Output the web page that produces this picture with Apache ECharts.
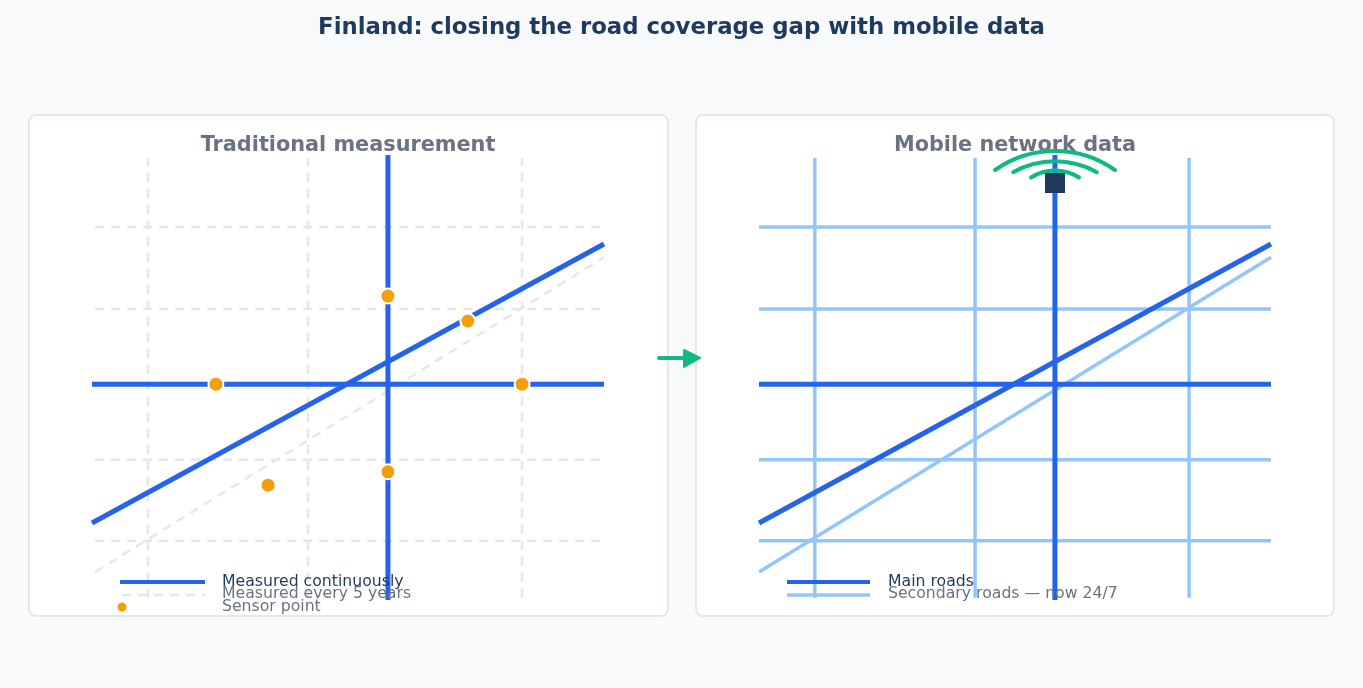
<!DOCTYPE html>
<html><head><meta charset="utf-8">
<script src="https://cdn.jsdelivr.net/npm/echarts@6/dist/echarts.min.js"></script>
<style>html,body{margin:0;background:#f8fafc}#c{width:1363px;height:688px}</style></head>
<body><div id="c"></div>
<script>
// coordinates in abstract map units 0..100
const gridX = [10.9, 42.2, 84.0];
const gridY = [83.8, 65.4, 31.5, 13.3];
const mainV = 57.8;
const mainH = 48.5;
const mainDiag = [[0, 17.3], [100, 80]];
const secDiag = [[0.6, 6.3], [100, 77]];
const sensors = [[24.2, 48.5], [84.0, 48.5], [57.8, 68.3], [73.4, 62.7], [57.8, 28.8], [34.4, 25.8]];

const BLUE = '#2563eb', LIGHT = '#93c5fd', GREY = '#e5e7eb';
const series = [];
function add(gi, data, color, w, dashed, z) {
  series.push({type: 'line', xAxisIndex: gi, yAxisIndex: gi, data, symbol: 'none', silent: true, z: z || 2,
    lineStyle: {color, width: w, type: dashed ? [9, 7] : 'solid'}});
}
gridX.forEach(x => add(0, [[x, 0.5], [x, 99.3]], GREY, 2.5, true));
gridY.forEach(y => add(0, [[0.6, y], [100, y]], GREY, 2.5, true));
add(0, secDiag, GREY, 2.5, true);
add(0, [[mainV, 0], [mainV, 100]], BLUE, 5, false, 3);
add(0, [[0, mainH], [100, mainH]], BLUE, 5, false, 3);
add(0, mainDiag, BLUE, 5, false, 3);
series.push({type: 'scatter', xAxisIndex: 0, yAxisIndex: 0, data: sensors, symbolSize: 15, z: 5, silent: true,
  itemStyle: {color: '#f59e0b', borderColor: '#fff', borderWidth: 2, opacity: 1}});
gridX.forEach(x => add(1, [[x, 0.5], [x, 99.3]], LIGHT, 3.5, false));
gridY.forEach(y => add(1, [[0, y], [100, y]], LIGHT, 3.5, false));
add(1, [[0, 6.3], [100, 77]], LIGHT, 3.5, false);
add(1, [[mainV, 0], [mainV, 100]], BLUE, 5, false, 3);
add(1, [[0, mainH], [100, mainH]], BLUE, 5, false, 3);
add(1, mainDiag, BLUE, 5, false, 3);

const ax = (gi) => ({type: 'value', gridIndex: gi, min: 0, max: 100, show: false});
function arc(r, cy, half) {
  return {type: 'arc', z: 10, shape: {cx: 1055, cy, r, startAngle: -Math.PI/2 - half, endAngle: -Math.PI/2 + half, clockwise: true},
    style: {stroke: '#10b981', fill: null, lineWidth: 4, lineCap: 'round'}};
}
const F = 'DejaVu Sans';
const chart = echarts.init(document.getElementById('c'));
chart.setOption({
  backgroundColor: '#f8fafc',
  title: {text: 'Finland: closing the road coverage gap with mobile data', left: 'center', top: 12,
    textStyle: {fontSize: 22.8, fontWeight: 'bold', color: '#1e3a5f', fontFamily: F}},
  grid: [{left: 92, top: 155, width: 512, height: 445}, {left: 759, top: 155, width: 512, height: 445}],
  xAxis: [ax(0), ax(1)], yAxis: [ax(0), ax(1)],
  series,
  graphic: [
    {type: 'rect', z: -10, shape: {x: 29, y: 115, width: 639, height: 501, r: 7}, style: {fill: '#fff', stroke: '#e5e7eb', lineWidth: 2}},
    {type: 'rect', z: -10, shape: {x: 696, y: 115, width: 638, height: 501, r: 7}, style: {fill: '#fff', stroke: '#e5e7eb', lineWidth: 2}},
    {type: 'text', z: 10, x: 348, y: 146, style: {text: 'Traditional measurement', align: 'center', verticalAlign: 'middle', fontSize: 20.8, fontWeight: 'bold', fill: '#6b7280', fontFamily: F}},
    {type: 'text', z: 10, x: 1015, y: 146, style: {text: 'Mobile network data', align: 'center', verticalAlign: 'middle', fontSize: 20.8, fontWeight: 'bold', fill: '#6b7280', fontFamily: F}},
    arc(104, 255, 0.614), arc(85.7, 247, 0.51), arc(44.6, 215, 0.57),
    {type: 'rect', z: 11, shape: {x: 1045, y: 173, width: 20, height: 20}, style: {fill: '#1e3a5f'}},
    {type: 'line', z: 10, shape: {x1: 659, y1: 358, x2: 688, y2: 358}, style: {stroke: '#10b981', lineWidth: 4, lineCap: 'round'}},
    {type: 'polygon', z: 10, shape: {points: [[684, 350], [700, 358], [684, 367]]}, style: {fill: '#10b981', stroke: '#10b981', lineWidth: 2, lineJoin: 'round'}},
    {type: 'line', z: 10, shape: {x1: 120, y1: 582, x2: 205, y2: 582}, style: {stroke: BLUE, lineWidth: 4}},
    {type: 'line', z: 10, shape: {x1: 122, y1: 595, x2: 205, y2: 595}, style: {stroke: GREY, lineWidth: 2.5, lineDash: [9, 7]}},
    {type: 'circle', z: 10, shape: {cx: 122, cy: 607, r: 4.5}, style: {fill: '#f59e0b'}},
    {type: 'text', z: 10, x: 222, y: 582, style: {text: 'Measured continuously', verticalAlign: 'middle', fontSize: 15.7, fill: '#1e3a5f', fontFamily: F}},
    {type: 'text', z: 10, x: 222, y: 594, style: {text: 'Measured every 5 years', verticalAlign: 'middle', fontSize: 15.7, fill: '#6b7280', fontFamily: F}},
    {type: 'text', z: 10, x: 222, y: 607, style: {text: 'Sensor point', verticalAlign: 'middle', fontSize: 15.7, fill: '#6b7280', fontFamily: F}},
    {type: 'line', z: 10, shape: {x1: 787, y1: 582, x2: 870, y2: 582}, style: {stroke: BLUE, lineWidth: 4}},
    {type: 'line', z: 10, shape: {x1: 787, y1: 595, x2: 870, y2: 595}, style: {stroke: LIGHT, lineWidth: 3.5}},
    {type: 'text', z: 10, x: 888, y: 582, style: {text: 'Main roads', verticalAlign: 'middle', fontSize: 15.7, fill: '#1e3a5f', fontFamily: F}},
    {type: 'text', z: 10, x: 888, y: 594, style: {text: 'Secondary roads — now 24/7', verticalAlign: 'middle', fontSize: 15.7, fill: '#6b7280', fontFamily: F}}
  ]
});
</script></body></html>
